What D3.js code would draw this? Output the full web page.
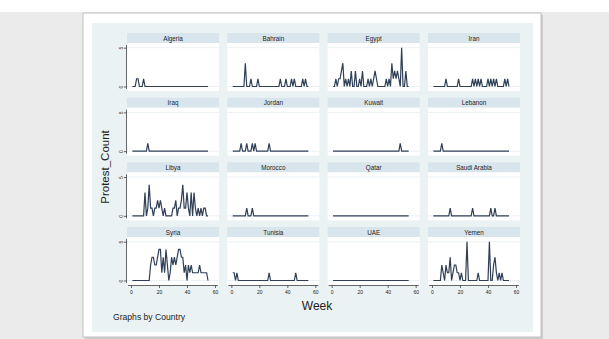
<!DOCTYPE html>
<html>
<head>
<meta charset="utf-8">
<script src="https://cdn.jsdelivr.net/npm/d3@7"></script>
<style>
  html, body { margin: 0; padding: 0; background: #ebebeb; }
  svg { display: block; }
  text { font-family: Arial, "Liberation Sans", Helvetica, sans-serif; }
</style>
</head>
<body>
<svg id="chart" width="609" height="339"></svg>
<script>
// ---- data ----
const countries = ["Algeria","Bahrain","Egypt","Iran","Iraq","Jordan","Kuwait","Lebanon",
                   "Libya","Morocco","Qatar","Saudi Arabia","Syria","Tunisia","UAE","Yemen"];
const weeks = d3.range(1, 56);
const xTicks = [0, 20, 40, 60];
const yTicks = [0, 5];

const algeria = [0,0,0,1,1,0,0,0,1,0, 0,0,0,0,0,0,0,0,0,0, 0,0,0,0,0,0,0,0,0,0, 0,0,0,0,0,0,0,0,0,0, 0,0,0,0,0,0,0,0,0,0, 0,0,0,0,0];
const bahrain = [0,0,0,0,0,0,0,0,0,3, 0,0,0,1,0,0,0,0,1,0, 0,0,0,0,0,0,0,0,0,0, 0,0,0,0,1,0,0,0,1,0, 0,0,1,0,1,0,0,0,0,0, 1,0,1,0,0];
const egypt   = [0,0,1,0,1,1,2,3,0,1, 0,1,0,2,0,0,2,0,0,1, 0,2,0,0,0,1,0,1,0,1, 2,1,0,0,0,0,0,0,1,0, 1,0,3,1,2,1,2,1,0,5, 0,0,2,0,0];
const iran    = [0,0,0,0,0,0,0,0,0,1, 0,0,0,0,0,0,0,0,1,0, 0,0,0,0,0,0,0,0,1,0, 1,0,1,0,1,0,0,0,0,1, 0,1,0,1,0,1,0,0,0,0, 0,1,0,1,0];
const iraq    = [0,0,0,0,0,0,0,0,0,0, 0,1,0,0,0,0,0,0,0,0, 0,0,0,0,0,0,0,0,0,0, 0,0,0,0,0,0,0,0,0,0, 0,0,0,0,0,0,0,0,0,0, 0,0,0,0,0];
const jordan  = [0,0,0,0,0,0,1,0,0,0, 1,0,0,0,1,0,1,0,0,0, 0,0,0,0,0,0,1,0,0,0, 0,0,0,0,0,0,0,0,0,0, 0,0,0,0,0,0,0,0,0,0, 0,0,0,0,0];
const kuwait  = [0,0,0,0,0,0,0,0,0,0, 0,0,0,0,0,0,0,0,0,0, 0,0,0,0,0,0,0,0,0,0, 0,0,0,0,0,0,0,0,0,0, 0,0,0,0,0,0,0,0,1,0, 0,0,0,0,0];
const lebanon = [0,0,0,0,0,0,1,0,0,0, 0,0,0,0,0,0,0,0,0,0, 0,0,0,0,0,0,0,0,0,0, 0,0,0,0,0,0,0,0,0,0, 0,0,0,0,0,0,0,0,0,0, 0,0,0,0,0];
const libya   = [0,0,0,0,0,0,0,0,0,3, 0,1,4,1,1,0,1,1,2,1, 2,1,0,1,0,0,0,0,0,1, 1,2,0,1,1,2,4,1,1,3, 1,0,3,0,3,1,0,1,0,1, 0,1,1,0,0];
const morocco = [0,0,0,0,0,0,0,0,0,0, 1,0,0,0,1,0,0,0,0,0, 0,0,0,0,0,0,0,0,0,0, 0,0,0,0,0,0,0,0,0,0, 0,0,0,0,0,0,0,0,0,0, 0,0,0,0,0];
const qatar   = [0,0,0,0,0,0,0,0,0,0, 0,0,0,0,0,0,0,0,0,0, 0,0,0,0,0,0,0,0,0,0, 0,0,0,0,0,0,0,0,0,0, 0,0,0,0,0,0,0,0,0,0, 0,0,0,0,0];
const saudi   = [0,0,0,0,0,0,0,0,0,0, 0,0,1,0,0,0,0,0,0,0, 0,0,0,0,0,0,0,0,1,0, 0,0,0,0,0,0,0,0,0,0, 0,1,0,0,1,0,0,0,0,0, 0,0,0,0,0];
const syria   = [0,0,0,0,0,0,0,0,0,0, 0,0,0,2,3,3,2,2,3,4, 4,1,3,1,4,2,0,1,3,2, 3,2,3,4,4,3,3,1,2,0, 2,1,2,1,1,1,1,1,2,1, 1,1,1,1,0];
const tunisia = [1,1,0,1,0,0,0,0,0,0, 0,0,0,0,0,0,0,0,0,0, 0,0,0,0,0,0,1,0,0,0, 0,0,0,0,0,0,0,0,0,0, 0,0,0,0,0,1,0,0,0,0, 0,0,0,0,0];
const uae     = [0,0,0,0,0,0,0,0,0,0, 0,0,0,0,0,0,0,0,0,0, 0,0,0,0,0,0,0,0,0,0, 0,0,0,0,0,0,0,0,0,0, 0,0,0,0,0,0,0,0,0,0, 0,0,0,0,0];
const yemen   = [0,0,0,0,0,0,2,1,0,2, 1,1,3,0,1,2,2,1,1,0, 1,0,0,0,5,0,0,0,0,0, 0,0,1,0,0,0,0,0,0,0, 5,0,0,2,3,1,0,1,0,1, 0,0,0,0,0];

const seriesList = [algeria,bahrain,egypt,iran,iraq,jordan,kuwait,lebanon,
                    libya,morocco,qatar,saudi,syria,tunisia,uae,yemen];

// ---- drawing ----
const svg = d3.select("#chart");

// page background: white top band, light gray elsewhere
svg.append("rect").attr("x", 0).attr("y", 0).attr("width", 609).attr("height", 339).attr("fill", "#ebebeb");
svg.append("rect").attr("x", 0).attr("y", 0).attr("width", 609).attr("height", 12).attr("fill", "#ffffff");

// card with shadow
svg.append("rect").attr("x", 85).attr("y", 15).attr("width", 458).attr("height", 330).attr("fill", "#cdcdcd");
svg.append("rect").attr("x", 83).attr("y", 13).attr("width", 458).attr("height", 324)
   .attr("fill", "#ffffff").attr("stroke", "#c0c0c0").attr("stroke-width", 1);
// graph region
svg.append("rect").attr("x", 92).attr("y", 23).attr("width", 441).attr("height", 309).attr("fill", "#eaf2f3");

const nCols = 4;
const colLeft = d3.scaleLinear().domain([0, 1]).range([127, 227.33]);
const rowTop = d3.scaleLinear().domain([0, 1]).range([33, 97.67]);
const panelW = 92, headH = 10, plotH = 48;
const lineColor = "#2e3f56";
const axisColor = "#444";

seriesList.forEach((vals, i) => {
  const r = Math.floor(i / nCols), c = i % nCols;
  const L = colLeft(c), T = rowTop(r);
  const pT = T + headH, pB = pT + plotH;
  const g = svg.append("g");

  // header strip
  g.append("rect").attr("x", L).attr("y", T).attr("width", panelW).attr("height", headH).attr("fill", "#d9e5ec");
  g.append("text").attr("x", L + panelW / 2).attr("y", T + 7.6).attr("text-anchor", "middle")
   .attr("font-size", 6.3).attr("fill", "#222").text(countries[i]);

  // plot region
  g.append("rect").attr("x", L).attr("y", pT).attr("width", panelW).attr("height", plotH).attr("fill", "#ffffff");

  const x = d3.scaleLinear().domain([0, 60]).range([L + 4, L + panelW - 4]);
  const y = d3.scaleLinear().domain([0, 5]).range([pB - 4.5, pT + 4.7]);

  // grid lines
  g.selectAll(".grid").data(yTicks).join("line")
    .attr("x1", L).attr("x2", L + panelW)
    .attr("y1", d => y(d)).attr("y2", d => y(d))
    .attr("stroke", "#e6eef1").attr("stroke-width", 0.8);

  // series line
  const line = d3.line().x((d, k) => x(weeks[k])).y(d => y(d));
  g.append("path").datum(vals).attr("d", line)
   .attr("fill", "none").attr("stroke", lineColor).attr("stroke-width", 1.2)
   .attr("stroke-linejoin", "miter");

  // y axis on first column
  if (c === 0) {
    const ya = g.append("g").attr("transform", `translate(${L},0)`)
      .call(d3.axisLeft(y).tickValues(yTicks).tickSize(3).tickPadding(1).tickFormat(d3.format("d")));
    ya.select(".domain").attr("d", `M-0.5,${pT + 2}V${pB - 2}`).attr("stroke", axisColor).attr("stroke-width", 0.8);
    ya.selectAll(".tick line").attr("stroke", axisColor).attr("stroke-width", 0.8);
    ya.selectAll(".tick text").attr("font-size", 5).attr("fill", "#222")
      .attr("text-anchor", "middle").attr("x", 0).attr("dy", 0)
      .attr("transform", "translate(-6,0) rotate(-90)").attr("y", 1.8);
  }
  // x axis on last row
  if (r === 3) {
    const xa = g.append("g").attr("transform", `translate(0,${pB})`)
      .call(d3.axisBottom(x).tickValues(xTicks).tickSize(3).tickPadding(2).tickFormat(d3.format("d")));
    xa.select(".domain").attr("d", `M${L + 1},0.5H${L + panelW - 1}`).attr("stroke", axisColor).attr("stroke-width", 0.8);
    xa.selectAll(".tick line").attr("stroke", axisColor).attr("stroke-width", 0.8);
    xa.selectAll(".tick text").attr("font-size", 5).attr("fill", "#222");
  }
});

// axis titles
svg.append("text").attr("transform", "translate(109,167) rotate(-90)").attr("text-anchor", "middle")
   .attr("font-size", 11.5).attr("fill", "#222").text("Protest_Count");
svg.append("text").attr("x", 317).attr("y", 310).attr("text-anchor", "middle")
   .attr("font-size", 12).attr("fill", "#222").text("Week");
svg.append("text").attr("x", 113).attr("y", 320).attr("font-size", 8.6).attr("fill", "#222").text("Graphs by Country");
</script>
</body>
</html>
